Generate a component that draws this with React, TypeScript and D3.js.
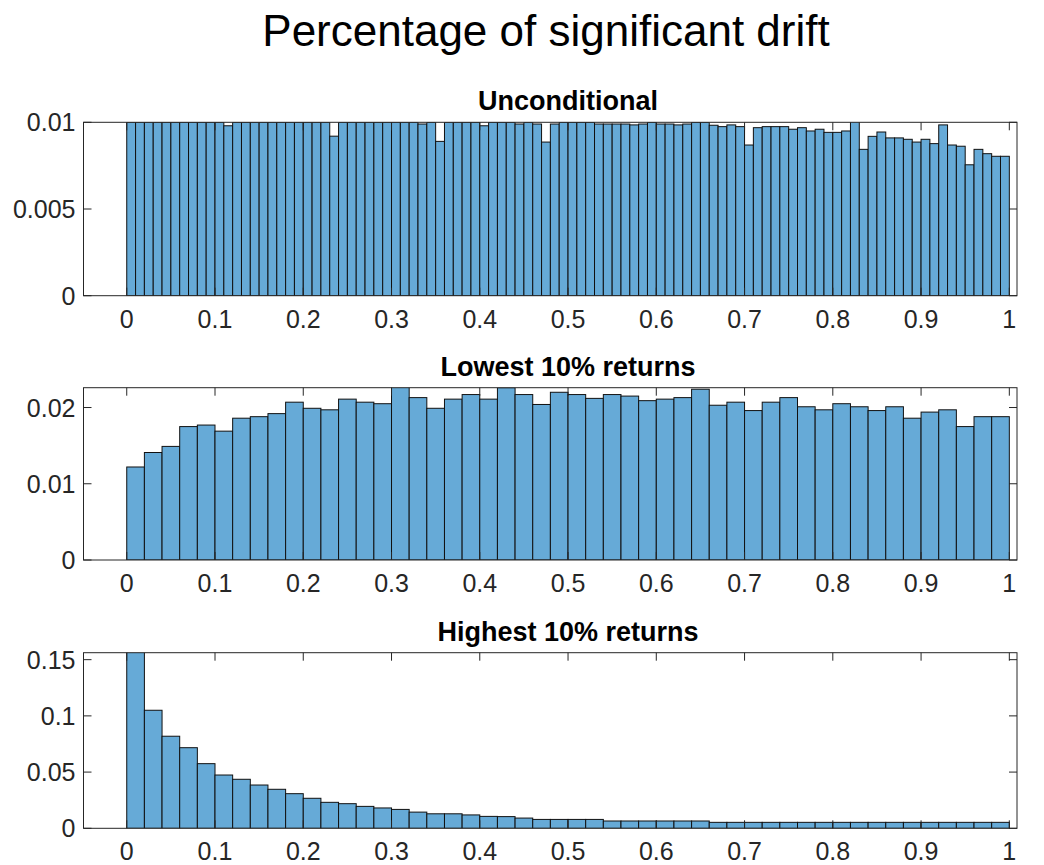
import { scaleLinear, select } from "d3";
import { useEffect, useRef } from "react";

const unconditional = [
  0.01, 0.01, 0.01, 0.01, 0.01, 0.01, 0.01, 0.01, 0.01, 0.01,
  0.01, 0.0098, 0.01, 0.01, 0.01, 0.01, 0.01, 0.01, 0.01, 0.01,
  0.01, 0.01, 0.01, 0.0092, 0.01, 0.01, 0.01, 0.01, 0.01, 0.01,
  0.01, 0.01, 0.01, 0.0099, 0.01, 0.0089, 0.01, 0.01, 0.01, 0.01,
  0.0098, 0.01, 0.01, 0.01, 0.0099, 0.01, 0.0099, 0.00886, 0.0099, 0.01,
  0.01, 0.01, 0.01, 0.0099, 0.0099, 0.0099, 0.0099, 0.00985, 0.0099, 0.01,
  0.0099, 0.0099, 0.00985, 0.0099, 0.01, 0.01, 0.00983, 0.00975, 0.00985, 0.00975,
  0.00869, 0.00969, 0.00975, 0.00975, 0.00975, 0.0096, 0.00969, 0.0095, 0.0096, 0.00942,
  0.00942, 0.0095, 0.0101, 0.00844, 0.00919, 0.00944, 0.0091, 0.0091, 0.00902, 0.00886,
  0.00902, 0.00877, 0.00985, 0.00869, 0.00862, 0.00755, 0.00844, 0.00819, 0.00804, 0.00804,
];

const lowest = [
  0.0122, 0.0141, 0.0149, 0.0175, 0.0177, 0.0169, 0.0186, 0.0188, 0.0192, 0.0207,
  0.0199, 0.0197, 0.0211, 0.0207, 0.0205, 0.0232, 0.0213, 0.0199, 0.0211, 0.0217,
  0.0211, 0.0226, 0.0217, 0.0204, 0.022, 0.0217, 0.0212, 0.0217, 0.0215, 0.0209,
  0.0211, 0.0213, 0.0224, 0.0203, 0.0207, 0.0196, 0.0207, 0.0213, 0.0201, 0.0197,
  0.0205, 0.0201, 0.0196, 0.0201, 0.0186, 0.0194, 0.0197, 0.0175, 0.0188, 0.0188,
];

const highest = [
  0.16, 0.105, 0.0819, 0.0717, 0.0575, 0.0474, 0.0436, 0.0385, 0.0347, 0.0308,
  0.0267, 0.0231, 0.0219, 0.0195, 0.0181, 0.0168, 0.0144, 0.0129, 0.0129, 0.0119,
  0.0106, 0.0104, 0.0091, 0.0079, 0.0079, 0.0079, 0.0079, 0.0065, 0.0065, 0.0065,
  0.0065, 0.0065, 0.0065, 0.0053, 0.0053, 0.0053, 0.0053, 0.0053, 0.0053, 0.0053,
  0.0053, 0.0053, 0.0053, 0.0053, 0.0053, 0.0053, 0.0053, 0.0053, 0.0053, 0.0053,
];

const xTicks = [0, 0.1, 0.2, 0.3, 0.4, 0.5, 0.6, 0.7, 0.8, 0.9, 1];
const xTickLabels = ["0", "0.1", "0.2", "0.3", "0.4", "0.5", "0.6", "0.7", "0.8", "0.9", "1"];

const panelTitles = ["Unconditional", "Lowest 10% returns", "Highest 10% returns"];
const panelData = [unconditional, lowest, highest];
const panelYMax = [0.01, 0.0226, 0.1562];
const panelYTicks = [
  [0, 0.005, 0.01],
  [0, 0.01, 0.02],
  [0, 0.05, 0.1, 0.15],
];
const panelYTickLabels = [
  ["0", "0.005", "0.01"],
  ["0", "0.01", "0.02"],
  ["0", "0.05", "0.1", "0.15"],
];

const FONT = "'Liberation Sans', Arial, Helvetica, sans-serif";
const AXIS_COLOR = "#262626";

export default function App() {
  const svgRef = useRef<SVGSVGElement | null>(null);

  useEffect(() => {
    if (!svgRef.current) return;
    const svg = select(svgRef.current);
    svg.selectAll("*").remove();

    const width = 1044;
    const height = 865;
    svg.attr("viewBox", `0 0 ${width} ${height}`);

    svg
      .append("rect")
      .attr("width", width)
      .attr("height", height)
      .attr("fill", "#fff");

    svg
      .append("text")
      .attr("x", 546)
      .attr("y", 46)
      .attr("text-anchor", "middle")
      .attr("font-family", FONT)
      .attr("font-size", 44)
      .attr("fill", "#000")
      .text("Percentage of significant drift");

    const xScale = scaleLinear().domain([-0.049, 1.0087]).range([83.5, 1017]);
    const panelTops = [122.3, 387.7, 652.7];
    const panelBottoms = [295.7, 560, 828.3];
    const tickLen = 8;

    panelData.forEach((values, p) => {
      const top = panelTops[p];
      const bottom = panelBottoms[p];
      const yScale = scaleLinear().domain([0, panelYMax[p]]).range([bottom, top]);
      const binWidth = 1 / values.length;

      const clipId = `clip-${p}`;
      svg
        .append("clipPath")
        .attr("id", clipId)
        .append("rect")
        .attr("x", xScale.range()[0])
        .attr("y", top)
        .attr("width", xScale.range()[1] - xScale.range()[0])
        .attr("height", bottom - top);

      const g = svg.append("g");

      g.append("g")
        .attr("clip-path", `url(#${clipId})`)
        .selectAll("rect")
        .data(values)
        .join("rect")
        .attr("x", (_, i) => xScale(i * binWidth))
        .attr("width", (_, i) => xScale((i + 1) * binWidth) - xScale(i * binWidth))
        .attr("y", (v) => yScale(v))
        .attr("height", (v) => bottom - yScale(v))
        .attr("fill", "#66aad7")
        .attr("stroke", "#111")
        .attr("stroke-width", 1);

      // frame
      const [x0, x1] = xScale.range();
      g.append("rect")
        .attr("x", x0)
        .attr("y", top)
        .attr("width", x1 - x0)
        .attr("height", bottom - top)
        .attr("fill", "none")
        .attr("stroke", AXIS_COLOR)
        .attr("stroke-width", 1);

      // x ticks, bottom and top, pointing inward
      const xt = g.append("g").attr("stroke", AXIS_COLOR).attr("stroke-width", 1);
      xTicks.forEach((t) => {
        const x = xScale(t);
        xt.append("line").attr("x1", x).attr("x2", x).attr("y1", bottom).attr("y2", bottom - tickLen);
        xt.append("line").attr("x1", x).attr("x2", x).attr("y1", top).attr("y2", top + tickLen);
      });
      g.append("g")
        .selectAll("text")
        .data(xTicks)
        .join("text")
        .attr("x", (t) => xScale(t))
        .attr("y", bottom + 32)
        .attr("text-anchor", "middle")
        .attr("font-family", FONT)
        .attr("font-size", 25)
        .attr("fill", AXIS_COLOR)
        .text((_, i) => xTickLabels[i]);

      // y ticks, left and right
      const yt = g.append("g").attr("stroke", AXIS_COLOR).attr("stroke-width", 1);
      panelYTicks[p].forEach((t) => {
        const y = yScale(t);
        yt.append("line").attr("x1", x0).attr("x2", x0 + tickLen).attr("y1", y).attr("y2", y);
        yt.append("line").attr("x1", x1).attr("x2", x1 - tickLen).attr("y1", y).attr("y2", y);
      });
      g.append("g")
        .selectAll("text")
        .data(panelYTicks[p])
        .join("text")
        .attr("x", x0 - 8)
        .attr("y", (t) => yScale(t) + 9)
        .attr("text-anchor", "end")
        .attr("font-family", FONT)
        .attr("font-size", 25)
        .attr("fill", AXIS_COLOR)
        .text((_, i) => panelYTickLabels[p][i]);

      g.append("text")
        .attr("x", xScale(0.5))
        .attr("y", top - 12)
        .attr("text-anchor", "middle")
        .attr("font-family", FONT)
        .attr("font-size", 27)
        .attr("font-weight", "bold")
        .attr("fill", "#000")
        .text(panelTitles[p]);
    });
  }, []);

  return (
    <svg
      ref={svgRef}
      width={1044}
      height={865}
      style={{ position: "absolute", left: 0, top: 0, display: "block" }}
    />
  );
}
